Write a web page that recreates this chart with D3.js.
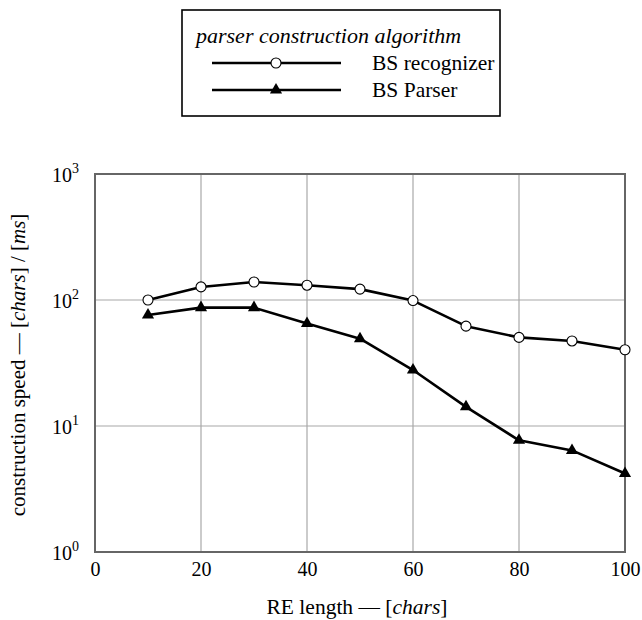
<!DOCTYPE html>
<html>
<head>
<meta charset="utf-8">
<script src="https://cdn.jsdelivr.net/npm/d3@7"></script>
<style>
  body { margin: 0; background: #fff; }
</style>
</head>
<body>
<div id="chart"></div>
<script>
// data
let reLength = [10, 20, 30, 40, 50, 60, 70, 80, 90, 100];
let recognizer = [100, 127, 139, 131, 122, 99, 62, 50.5, 47.3, 40.3];
let parser = [76, 87, 87, 65, 49.3, 27.8, 14.2, 7.7, 6.4, 4.2];
let xTicks = [0, 20, 40, 60, 80, 100];
let yTicks = [1, 10, 100, 1000];
let seriesNames = ["BS recognizer", "BS Parser"];

let W = 642, H = 620;
let font = "Liberation Serif";
let margin = {top: 174, right: 17, bottom: 68, left: 95},
    width = W - margin.left - margin.right,
    height = H - margin.top - margin.bottom;

let svg = d3.select("#chart").append("svg")
    .attr("width", W)
    .attr("height", H)
    .attr("font-family", font);

let g = svg.append("g")
    .attr("transform", "translate(" + margin.left + "," + margin.top + ")");

let x = d3.scaleLinear().domain([0, 100]).range([0, width]);
let y = d3.scaleLog().domain([1, 1000]).range([height, 0]);

// grid
g.append("g").selectAll("line.vx")
    .data(xTicks.slice(1, -1))
    .enter().append("line")
    .attr("x1", d => x(d)).attr("x2", d => x(d))
    .attr("y1", 0).attr("y2", height)
    .style("stroke", "#a8a8a8").style("stroke-width", 1.2);

g.append("g").selectAll("line.hy")
    .data(yTicks.slice(1, -1))
    .enter().append("line")
    .attr("x1", 0).attr("x2", width)
    .attr("y1", d => y(d)).attr("y2", d => y(d))
    .style("stroke", "#a8a8a8").style("stroke-width", 1.2);

// frame
g.append("rect")
    .attr("width", width).attr("height", height)
    .style("fill", "none").style("stroke", "#666").style("stroke-width", 2);

// x tick labels
let xAxis = d3.axisBottom(x).tickValues(xTicks).tickSize(0).tickPadding(10);
let xg = g.append("g")
    .attr("transform", "translate(0," + height + ")")
    .call(xAxis)
    .attr("font-family", font)
    .attr("font-size", 20);
xg.select(".domain").remove();
xg.selectAll("text")
    .attr("font-family", font)
    .attr("fill", "#000");

// y tick labels: 10 with superscript exponent
let yg = g.append("g");
yg.selectAll("text")
    .data(yTicks)
    .enter().append("text")
    .attr("x", -16)
    .attr("y", d => y(d) + 7.5)
    .attr("text-anchor", "end")
    .attr("font-family", font)
    .attr("font-size", 20)
    .each(function(d) {
        let t = d3.select(this);
        t.append("tspan").text("10");
        t.append("tspan")
            .attr("dy", -8.5)
            .attr("font-size", 14)
            .text(Math.round(Math.log10(d)));
    });

// axis titles
let xt = svg.append("text")
    .attr("x", margin.left + width / 2 - 3)
    .attr("y", 614)
    .attr("text-anchor", "middle")
    .attr("font-family", font)
    .attr("font-size", 21.5);
xt.append("tspan").text("RE length — [");
xt.append("tspan").attr("font-style", "italic").text("chars");
xt.append("tspan").text("]");

let yt = svg.append("text")
    .attr("transform", "translate(25," + (margin.top + height / 2 + 2) + ") rotate(-90)")
    .attr("text-anchor", "middle")
    .attr("font-family", font)
    .attr("font-size", 21);
yt.append("tspan").text("construction speed — [");
yt.append("tspan").attr("font-style", "italic").text("chars");
yt.append("tspan").text("] / [");
yt.append("tspan").attr("font-style", "italic").text("ms");
yt.append("tspan").text("]");

// lines
let line = d3.line()
    .x(d => x(d[0]))
    .y(d => y(d[1]));

let recData = reLength.map((d, i) => [d, recognizer[i]]);
let parData = reLength.map((d, i) => [d, parser[i]]);

[recData, parData].forEach(function(data) {
    g.append("path")
        .datum(data)
        .attr("d", line)
        .style("fill", "none")
        .style("stroke", "#000")
        .style("stroke-width", 2.6)
        .style("stroke-linejoin", "round");
});

let tri = d3.symbol().type(d3.symbolTriangle).size(64);

g.selectAll("path.tri")
    .data(parData)
    .enter().append("path")
    .attr("class", "tri")
    .attr("d", tri)
    .attr("transform", d => "translate(" + x(d[0]) + "," + y(d[1]) + ")")
    .style("fill", "#000");

g.selectAll("circle.rec")
    .data(recData)
    .enter().append("circle")
    .attr("class", "rec")
    .attr("cx", d => x(d[0]))
    .attr("cy", d => y(d[1]))
    .attr("r", 5)
    .style("fill", "#fff")
    .style("stroke", "#000")
    .style("stroke-width", 1.1);

// legend
let lg = svg.append("g");
lg.append("rect")
    .attr("x", 182).attr("y", 10)
    .attr("width", 318).attr("height", 106)
    .style("fill", "#fff").style("stroke", "#000").style("stroke-width", 1.6);

lg.append("text")
    .attr("x", 196).attr("y", 43)
    .attr("font-family", font)
    .attr("font-size", 22)
    .attr("font-style", "italic")
    .text("parser construction algorithm");

let legRows = [63, 90];
legRows.forEach(function(ly, i) {
    lg.append("line")
        .attr("x1", 212).attr("x2", 341)
        .attr("y1", ly).attr("y2", ly)
        .style("stroke", "#000").style("stroke-width", 2.6);
    if (i === 0) {
        lg.append("circle")
            .attr("cx", 276).attr("cy", ly).attr("r", 5)
            .style("fill", "#fff").style("stroke", "#000").style("stroke-width", 1.1);
    } else {
        lg.append("path")
            .attr("d", tri)
            .attr("transform", "translate(276," + ly + ")")
            .style("fill", "#000");
    }
    lg.append("text")
        .attr("x", 372).attr("y", ly + 7)
        .attr("font-family", font)
        .attr("font-size", 21.5)
        .text(seriesNames[i]);
});
</script>
</body>
</html>
